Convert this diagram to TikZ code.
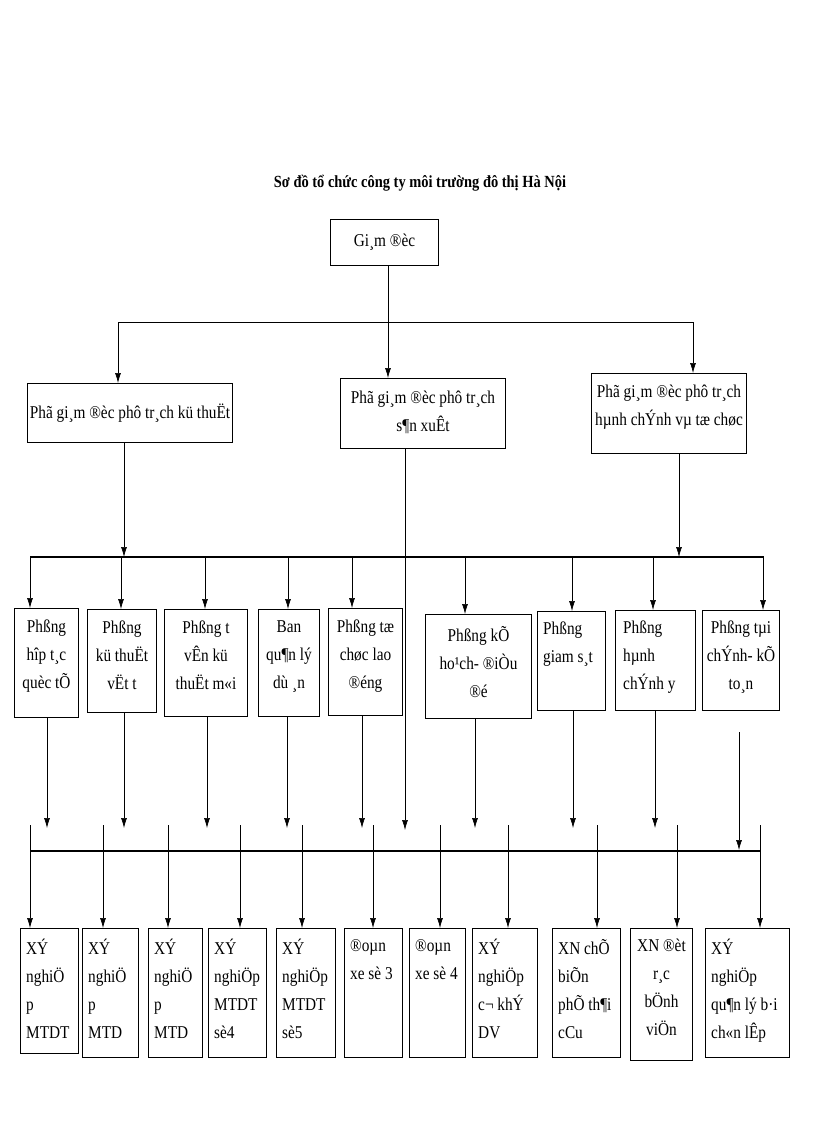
\documentclass[tikz,border=0pt]{standalone}
\usepackage{fontspec}
\setmainfont{Liberation Serif}[FakeStretch=0.85]
\usetikzlibrary{arrows.meta}
\begin{document}
\begin{tikzpicture}[x=1pt,y=-1pt,
  box/.style={draw,line width=1pt,inner sep=0pt,anchor=north west},
  txt/.style={anchor=north west,inner sep=0pt,font=\fontsize{18}{28}\selectfont,align=left},
  ctxt/.style={anchor=north,inner sep=0pt,font=\fontsize{18}{28}\selectfont,align=center},
  ln/.style={line width=0.6pt},
  bus/.style={line width=1.6pt},
  arr/.style={ln,-{Latex[length=10pt,width=6pt]}}]
\useasboundingbox (0,0) rectangle (816,1123);
\node[font=\bfseries\fontsize{17}{18}\selectfont] (title) at (420,183) {Sơ đồ tổ chức công ty môi trường đô thị Hà Nội};
% level 0
\node[box,minimum width=108,minimum height=46] (gd) at (330,219) {};
\node[font=\fontsize{18}{20}\selectfont] at (gd.center) {Gi¸m ®èc};
% level 1
\node[box,minimum width=205,minimum height=59] (p1) at (27,383) {};
\node[font=\fontsize{18}{20}\selectfont] at (p1.center) {Phã gi¸m ®èc phô tr¸ch kü thuËt};
\node[box,minimum width=165,minimum height=70] (p2) at (340,378) {};
\node[ctxt] at ([yshift=-13]p2.north) {Phã gi¸m ®èc phô tr¸ch\\s¶n xuÊt};
\node[box,minimum width=155,minimum height=80] (p3) at (591,373) {};
\node[ctxt] at ([yshift=-12]p3.north) {Phã gi¸m ®èc phô tr¸ch\\hµnh chÝnh vµ tæ chøc};
\coordinate (t1) at (118,322); \coordinate (t3) at (693,322); \coordinate (tm) at (388,322);
\draw[ln] (t1) -- (t3);
\draw[ln] (gd.south -| tm) -- (tm);
\draw[arr] (tm) -- (p2.north -| tm);
\draw[arr] (t1) -- (p1.north -| t1);
\draw[arr] (t3) -- (p3.north -| t3);
% level 2 bus
\coordinate (ba) at (30,557); \coordinate (bb) at (764,557);
\draw[bus] (ba) -- (bb);
\draw[arr] (p1.south -| 124,0) -- (124,557);
\draw[arr] (p3.south -| 679,0) -- (679,557);
% level 2 boxes
\node[box,minimum width=64,minimum height=109] (k1) at (14,608) {};
\node[ctxt] at ([yshift=-12]k1.north) {Phßng\\hîp t¸c\\quèc tÕ};
\node[box,minimum width=69,minimum height=103] (k2) at (87,609) {};
\node[ctxt] at ([yshift=-12]k2.north) {Phßng\\kü thuËt\\vËt t};
\node[box,minimum width=83,minimum height=107] (k3) at (164,609) {};
\node[ctxt] at ([yshift=-12]k3.north) {Phßng t\\vÊn kü\\thuËt m«i};
\node[box,minimum width=61,minimum height=107] (k4) at (258,609) {};
\node[ctxt] at ([yshift=-12]k4.north) {Ban\\qu¶n lý\\dù ¸n};
\node[box,minimum width=74,minimum height=107] (k5) at (328,608) {};
\node[ctxt] at ([yshift=-12]k5.north) {Phßng tæ\\chøc lao\\®éng};
\node[box,minimum width=106,minimum height=104] (k6) at (425,614) {};
\node[ctxt] at ([yshift=-12]k6.north) {Phßng kÕ\\ho¹ch- ®iÒu\\®é};
\node[box,minimum width=68,minimum height=99] (k7) at (537,611) {};
\node[txt] at ([xshift=6,yshift=-11]k7.north west) {Phßng\\giam s¸t};
\node[box,minimum width=80,minimum height=100] (k8) at (615,610) {};
\node[txt] at ([xshift=8,yshift=-11]k8.north west) {Phßng\\hµnh\\chÝnh y};
\node[box,minimum width=77,minimum height=100] (k9) at (702,610) {};
\node[ctxt] at ([yshift=-11]k9.north) {Phßng tµi\\chÝnh- kÕ\\to¸n};
\foreach \n/\x in {k1/30,k2/121,k3/205,k4/288,k5/352,k6/465,k7/572,k8/653,k9/763}
  \draw[arr] (\x,557) -- (\n.north -| \x,0);
% middle line through
\draw[ln] (p2.south -| 405,0) -- (405,557);
\draw[arr] (405,557) -- (405,830);
% level 2 down arrows
\foreach \n/\x in {k1/47,k2/124,k3/207,k4/287,k5/362,k6/475,k7/573,k8/655}
  \draw[arr] (\n.south -| \x,0) -- (\x,828);
\draw[arr] (739,732) -- (739,850);
% lower bus
\coordinate (la) at (30,851); \coordinate (lb) at (760,851);
\draw[bus] (la) -- (lb);
% bottom boxes
\foreach \n/\xa/\xb/\yb in {m1/20/78/1053,m2/82/138/1057,m3/148/202/1057,m4/208/266/1057,m5/276/335/1057,m6/344/402/1057,m7/409/465/1057,m8/472/537/1057,m9/552/620/1057,m10/630/692/1060,m11/705/789/1057}
  \node[box,minimum width=\xb-\xa,minimum height=\yb-928] (\n) at (\xa,928) {};
\node[txt] at ([xshift=6,yshift=-11]m1.north west) {XÝ\\nghiÖ\\p\\MTDT};
\node[txt] at ([xshift=6,yshift=-11]m2.north west) {XÝ\\nghiÖ\\p\\MTD};
\node[txt] at ([xshift=6,yshift=-11]m3.north west) {XÝ\\nghiÖ\\p\\MTD};
\node[txt] at ([xshift=6,yshift=-11]m4.north west) {XÝ\\nghiÖp\\MTDT\\sè4};
\node[txt] at ([xshift=6,yshift=-11]m5.north west) {XÝ\\nghiÖp\\MTDT\\sè5};
\node[txt] at ([xshift=6,yshift=-11]m6.north west) {®oµn\\xe sè 3};
\node[txt] at ([xshift=6,yshift=-11]m7.north west) {®oµn\\xe sè 4};
\node[txt] at ([xshift=6,yshift=-11]m8.north west) {XÝ\\nghiÖp\\c¬ khÝ\\DV};
\node[txt] at ([xshift=6,yshift=-11]m9.north west) {XN chÕ\\biÕn\\phÕ th¶i\\cCu};
\node[ctxt] at ([yshift=-11]m10.north) {XN ®èt\\r¸c\\bÖnh\\viÖn};
\node[txt] at ([xshift=6,yshift=-11]m11.north west) {XÝ\\nghiÖp\\qu¶n lý b·i\\ch«n lÊp};
\foreach \n/\x in {m1/30,m2/103,m3/168,m4/240,m5/302,m6/373,m7/440,m8/508,m9/597,m10/677,m11/760}
  \draw[arr] (\x,825) -- (\n.north -| \x,0);
\end{tikzpicture}
\end{document}
